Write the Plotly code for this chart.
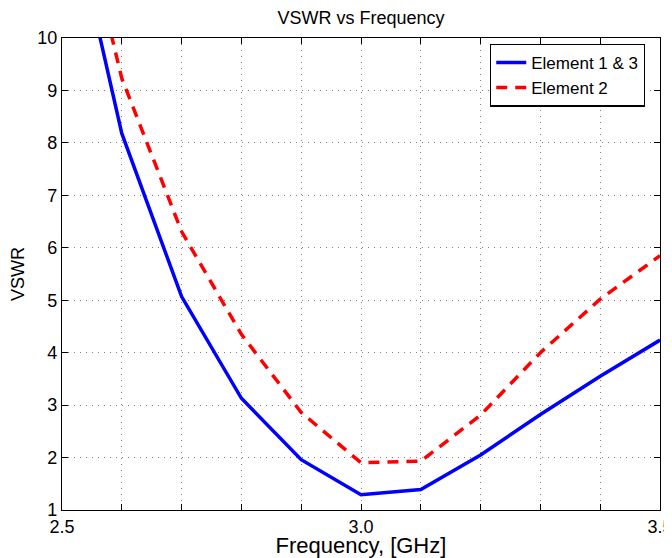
import plotly.graph_objects as go

freq = [2.5, 2.6, 2.7, 2.8, 2.9, 3.0, 3.1, 3.2, 3.3, 3.4, 3.5]
vswr_el13 = [13.2, 8.18, 5.07, 3.13, 1.96, 1.29, 1.39, 2.05, 2.82, 3.55, 4.24]
vswr_el2 = [13.95, 9.23, 6.31, 4.35, 2.86, 1.90, 1.93, 2.81, 4.0, 5.02, 5.85]

x_ticks = [2.5, 2.6, 2.7, 2.8, 2.9, 3.0, 3.1, 3.2, 3.3, 3.4, 3.5]
x_labels = ["2.5", "", "", "", "", "3.0", "", "", "", "", "3.5"]
y_ticks = [1, 2, 3, 4, 5, 6, 7, 8, 9, 10]

# page body has an 8px margin, so the figure is a bit smaller than the window
W, H = 664, 550
L, R, T, B = 54, 12, 30, 48

fig = go.Figure()
fig.add_trace(go.Scatter(x=freq, y=vswr_el13, mode="lines", name="Element 1 & 3",
                         line=dict(color="#0000ff", width=3.5)))
fig.add_trace(go.Scatter(x=freq, y=vswr_el2, mode="lines", name="Element 2",
                         line=dict(color="#ff0000", width=3.5, dash="11px,8px")))

axis_style = dict(
    showline=True, linecolor="black", linewidth=1.2, mirror="ticks",
    ticks="inside", ticklen=6, tickcolor="black", tickwidth=1,
    showgrid=True, gridcolor="#808080", gridwidth=1, griddash="1px,5px",
    zeroline=False, tickfont=dict(size=18, color="black"), automargin=False,
    ticklabeloverflow="allow",
)

fig.update_layout(
    width=W, height=H,
    margin=dict(l=L, r=R, t=T, b=B, autoexpand=False),
    paper_bgcolor="white", plot_bgcolor="white",
    font=dict(family="Liberation Sans, Arial, sans-serif", size=18, color="black"),
    title=dict(text="VSWR vs Frequency", x=(L + (W - R)) / 2 / W, xanchor="center",
               y=1 - 10 / H, yanchor="middle", yref="container",
               font=dict(size=18, color="black")),
    xaxis=dict(range=[2.5, 3.5], tickvals=x_ticks, ticktext=x_labels,
               title=dict(text="Frequency, [GHz]", standoff=0), **axis_style),
    yaxis=dict(range=[1, 10], tickvals=y_ticks, **axis_style),
    legend=dict(x=0.975, y=0.988, xanchor="right", yanchor="top",
                bgcolor="white", bordercolor="black", borderwidth=1.2,
                font=dict(size=17), tracegroupgap=0, entrywidth=128),
    showlegend=True,
)

# y axis label placed by hand so it sits near the left edge
fig.add_annotation(text="VSWR", textangle=-90, showarrow=False,
                   xref="paper", yref="paper", x=(10 - L) / (W - L - R), y=0.5,
                   xanchor="center", yanchor="middle", font=dict(size=18))

fig.write_html("out.html")
